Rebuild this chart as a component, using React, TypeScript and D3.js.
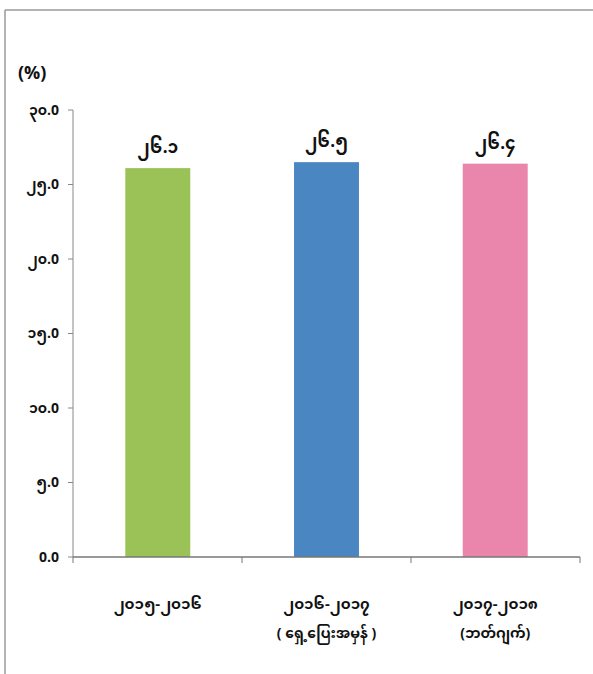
import React from "react";
import * as d3 from "d3";

const categories = ["၂၀၁၅-၂၀၁၆", "၂၀၁၆-၂၀၁၇", "၂၀၁၇-၂၀၁၈"];
const subLabels = ["", "( ရှေ့ပြေးအမှန် )", "(ဘတ်ဂျက်)"];
const values = [26.1, 26.5, 26.4];
const valueLabels = ["၂၆.၁", "၂၆.၅", "၂၆.၄"];
const yTicks = [0, 5, 10, 15, 20, 25, 30];
const yTickLabels = ["0.0", "၅.0", "၁၀.0", "၁၅.0", "၂၀.0", "၂၅.0", "၃၀.0"];
const colors = ["#9bc257", "#4a87c2", "#ea86ab"];

const W = 593;
const H = 674;
const left = 73;
const right = 580;
const top = 110;
const bottom = 557;
const font = "'Noto Sans Myanmar', 'Myanmar Text', Padauk, 'DejaVu Sans', sans-serif";

export default function App() {
  const x = d3.scaleBand<string>().domain(categories).range([left, right]).paddingInner(0.615).paddingOuter(0.31);
  const xTicks = d3.scaleBand<string>().domain(categories).range([left, right]);
  const y = d3.scaleLinear().domain([0, 30]).range([bottom, top]);

  return (
    <svg width={W} height={H} style={{ position: "absolute", left: 0, top: 0, background: "#fff" }}>
      {/* frame */}
      <line x1={5} y1={10} x2={593} y2={10} stroke="#9a9a9a" strokeWidth={1.5} />
      <line x1={5} y1={10} x2={5} y2={674} stroke="#9a9a9a" strokeWidth={1.5} />

      <text x={18} y={79} fontFamily={font} fontWeight="bold" fontSize={18} fill="#111">(%)</text>

      {/* y axis */}
      <line x1={left} y1={top} x2={left} y2={bottom} stroke="#888" strokeWidth={1} />
      {yTicks.map((t, i) => (
        <g key={t}>
          <line x1={left - 5} x2={left} y1={y(t)} y2={y(t)} stroke="#888" />
          <text x={left - 14} y={y(t)} dy="0.35em" textAnchor="end" fontFamily={font} fontWeight="bold" fontSize={14} fill="#111">
            {yTickLabels[i]}
          </text>
        </g>
      ))}

      {/* bars */}
      {categories.map((c, i) => (
        <g key={c}>
          <rect x={x(c)} y={y(values[i])} width={x.bandwidth()} height={bottom - y(values[i])} fill={colors[i]} />
          <text x={(x(c) as number) + x.bandwidth() / 2} y={y(values[i]) - 15} textAnchor="middle" fontFamily={font} fontWeight="bold" fontSize={17} fill="#111">
            {valueLabels[i]}
          </text>
        </g>
      ))}

      {/* x axis */}
      <line x1={left} y1={bottom} x2={right} y2={bottom} stroke="#777" strokeWidth={1.5} />
      {categories.map((c) => (
        <line key={c} x1={(xTicks(c) as number) + xTicks.bandwidth()} x2={(xTicks(c) as number) + xTicks.bandwidth()} y1={bottom} y2={bottom + 6} stroke="#777" />
      ))}
      <line x1={left} x2={left} y1={bottom} y2={bottom + 6} stroke="#777" />
      {categories.map((c, i) => (
        <g key={c}>
          <text x={(x(c) as number) + x.bandwidth() / 2} y={609} textAnchor="middle" fontFamily={font} fontWeight="bold" fontSize={15} fill="#111">
            {c}
          </text>
          {subLabels[i] && (
            <text x={(x(c) as number) + x.bandwidth() / 2} y={638} textAnchor="middle" fontFamily={font} fontWeight="bold" fontSize={14} fill="#111">
              {subLabels[i]}
            </text>
          )}
        </g>
      ))}
    </svg>
  );
}
